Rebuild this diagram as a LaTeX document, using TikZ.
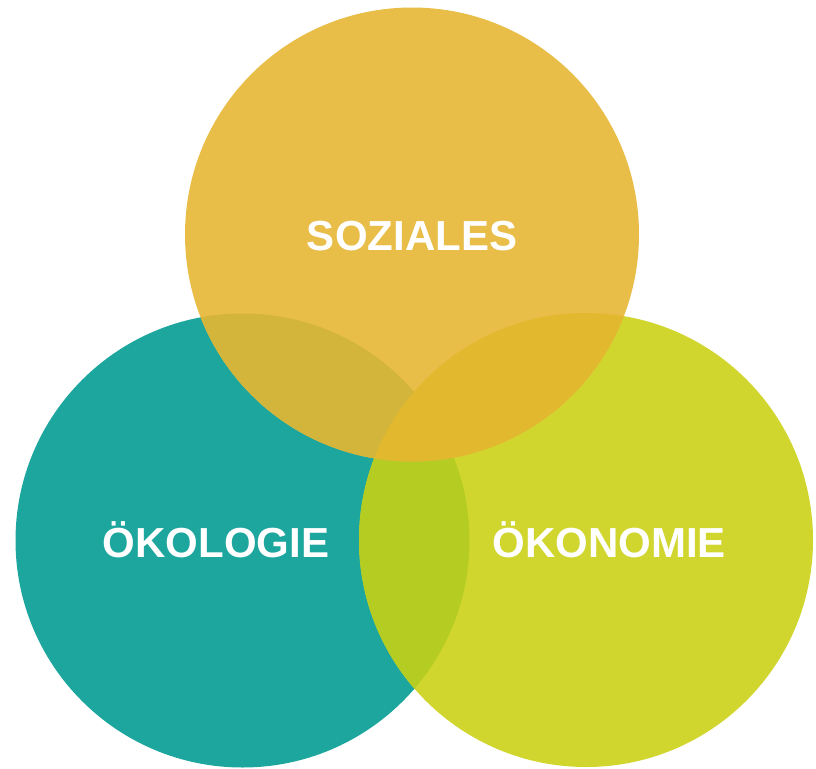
\documentclass[tikz,border=0pt]{standalone}
\usepackage{fontspec}
\setmainfont{Liberation Sans}
\newfontfamily\labelfont{Liberation Sans Bold}
\definecolor{tealc}{RGB}{28,166,158}
\definecolor{greenc}{RGB}{209,214,46}
\definecolor{sozc}{RGB}{232,189,72}
\definecolor{tealgreen}{RGB}{181,205,34}
\definecolor{sozteal}{RGB}{210,181,58}
\definecolor{sozgreen}{RGB}{226,185,46}
\tikzset{
  lbl/.style={text=white, font=\labelfont\fontsize{42}{44}\selectfont, anchor=base, inner sep=0pt}
}
\begin{document}
\begin{tikzpicture}[x=1pt,y=-1pt]
\useasboundingbox (0,0) rectangle (816,768);
\coordinate (cE) at (242.5,540.5);
\coordinate (cW) at (586,540);
\coordinate (cS) at (412,234.5);
\def\R{227}
% base circles
\fill[tealc] (cE) circle[radius=\R];
\fill[greenc] (cW) circle[radius=\R];
% teal & green overlap
\begin{scope}
  \clip (cE) circle[radius=\R];
  \fill[tealgreen] (cW) circle[radius=\R];
\end{scope}
% soziales circle
\fill[sozc] (cS) circle[radius=\R];
\begin{scope}
  \clip (cS) circle[radius=\R];
  \fill[sozteal] (cE) circle[radius=\R];
  \fill[sozgreen] (cW) circle[radius=\R];
\end{scope}
% labels
\node[lbl] (soz) at (412,250) {SOZIALES};
\node[lbl] (oek) at (216,557) {ÖKOLOGIE};
\node[lbl] (oekon) at (609,557) {ÖKONOMIE};
\end{tikzpicture}
\end{document}
